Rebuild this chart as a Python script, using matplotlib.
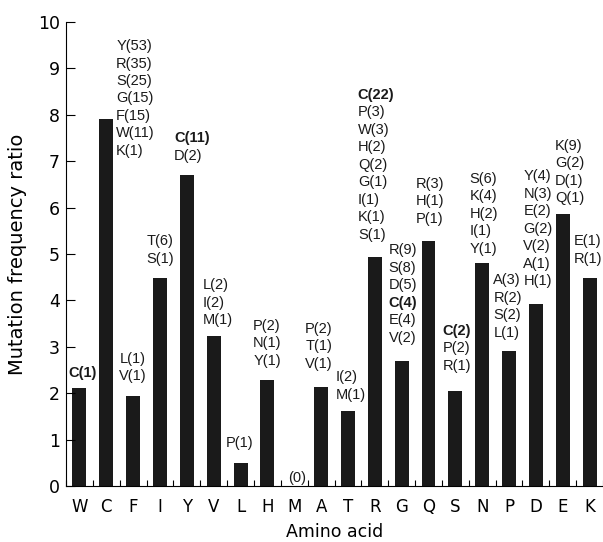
import matplotlib
matplotlib.use("Agg")
import matplotlib.pyplot as plt
from matplotlib.offsetbox import TextArea, VPacker, AnnotationBbox

plt.rcParams['font.family'] = ['Liberation Sans', 'DejaVu Sans']

# data
amino = ["W", "C", "F", "I", "Y", "V", "L", "H", "M", "A",
         "T", "R", "G", "Q", "S", "N", "P", "D", "E", "K"]
ratio = [2.11, 7.91, 1.94, 4.48, 6.70, 3.23, 0.50, 2.28, 0.0, 2.13,
         1.62, 4.94, 2.69, 5.28, 2.05, 4.81, 2.91, 3.92, 5.86, 4.48]
mut_labels = [
    ["C(1)"],
    ["Y(53)", "R(35)", "S(25)", "G(15)", "F(15)", "W(11)", "K(1)"],
    ["L(1)", "V(1)"],
    ["T(6)", "S(1)"],
    ["C(11)", "D(2)"],
    ["L(2)", "I(2)", "M(1)"],
    ["P(1)"],
    ["P(2)", "N(1)", "Y(1)"],
    ["(0)"],
    ["P(2)", "T(1)", "V(1)"],
    ["I(2)", "M(1)"],
    ["C(22)", "P(3)", "W(3)", "H(2)", "Q(2)", "G(1)", "I(1)", "K(1)", "S(1)"],
    ["R(9)", "S(8)", "D(5)", "C(4)", "E(4)", "V(2)"],
    ["R(3)", "H(1)", "P(1)"],
    ["C(2)", "P(2)", "R(1)"],
    ["S(6)", "K(4)", "H(2)", "I(1)", "Y(1)"],
    ["A(3)", "R(2)", "S(2)", "L(1)"],
    ["Y(4)", "N(3)", "E(2)", "G(2)", "V(2)", "A(1)", "H(1)"],
    ["K(9)", "G(2)", "D(1)", "Q(1)"],
    ["E(1)", "R(1)"],
]

# label offsets from bar top (points): dx, dy
label_off = [(2, 6), (21, -28), (0, 9), (0, 9), (3.5, 9), (3, 6.5), (-1, 9), (0, 9),
             (2, 1), (-1.5, 12), (2, 6.5), (1, 11), (1, 12), (1, 11), (1, 13),
             (1, 5), (-1, 8), (1.5, 11.5), (5, 6.5), (-1, 9)]

axis_font = 'DejaVu Sans'

fig = plt.figure(figsize=(6.03, 5.42), dpi=100)
ax = fig.add_axes([0.1095, 0.1033, 0.8905, 0.8561])

x = list(range(len(amino)))
ax.bar(x, ratio, width=0.52, color='#1a1a1a')

for i in x:
    lines = []
    for s in mut_labels[i]:
        bold = s.startswith("C")
        lines.append(TextArea(s, textprops=dict(fontsize=10.5, color='#1a1a1a',
                                                fontweight='bold' if bold else 'normal')))
    box = VPacker(children=lines, align='left', pad=0, sep=2.5)
    ab = AnnotationBbox(box, (i, ratio[i]), xybox=label_off[i], xycoords='data',
                        boxcoords='offset points', box_alignment=(0.5, 0),
                        frameon=False, pad=0, annotation_clip=False)
    ax.add_artist(ab)

ax.set_xlim(-0.5, 19.4)
ax.set_ylim(0, 10)
ax.set_yticks(range(0, 11))
ax.set_xticks(x)
ax.set_xticklabels(amino, family=axis_font, fontsize=12)
ax.set_yticklabels([str(v) for v in range(0, 11)], family=axis_font, fontsize=12.5)
ax.set_xticks([i + 0.5 for i in range(-1, 20)], minor=True)
ax.tick_params(axis='x', which='major', length=0, pad=8.5)
ax.tick_params(axis='x', which='minor', direction='in', length=4.3, width=0.8)
ax.tick_params(axis='y', direction='in', length=6.7, width=0.8, pad=4.5)

for side in ['top', 'right']:
    ax.spines[side].set_visible(False)
for side in ['left', 'bottom']:
    ax.spines[side].set_linewidth(0.8)

ax.set_xlabel("Amino acid", family=axis_font, fontsize=12.5, labelpad=5.5)
ax.set_ylabel("Mutation frequency ratio", family=axis_font, fontsize=14, labelpad=8)

fig.savefig("out.png", dpi=100)
